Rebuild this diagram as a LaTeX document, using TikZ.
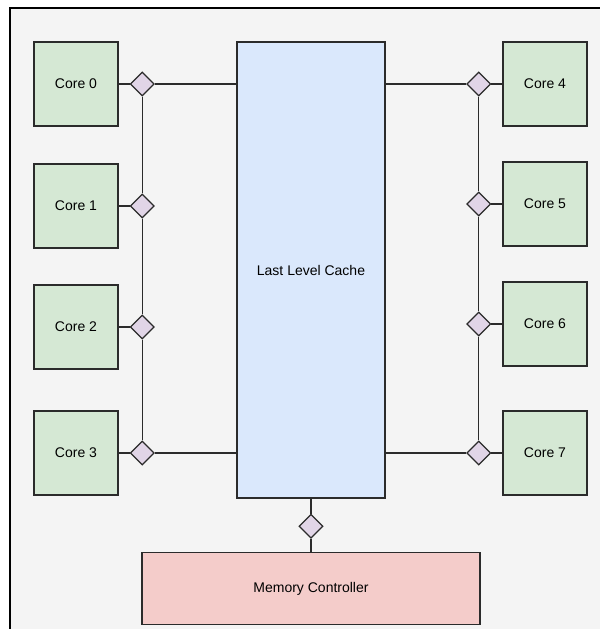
\documentclass[tikz,border=0pt]{standalone}
\usepackage{fontspec}
\setmainfont{Liberation Sans}
\usepackage{xcolor}
\usetikzlibrary{shapes.geometric, positioning}

\definecolor{pagegray}{HTML}{F4F4F4}
\definecolor{corefill}{HTML}{D5E8D4}
\definecolor{portfill}{HTML}{E1D5E7}
\definecolor{cachefill}{HTML}{DAE8FC}
\definecolor{memfill}{HTML}{F4CCCA}
\definecolor{edge}{HTML}{2B2B2B}

\begin{document}
\begin{tikzpicture}[
        x=1pt, y=-1pt,
        core/.style={
            rectangle,
            draw=edge,
            fill=corefill,
            line width=1.3pt,
            minimum width=84pt,
            minimum height=84pt,
            align=center,
            font=\fontsize{14}{16}\selectfont
        },
        port/.style={
            diamond,
            draw=edge,
            fill=portfill,
            line width=1.3pt,
            inner sep=0pt,
            minimum width=24pt,
            minimum height=24pt
        },
        cache/.style={
            rectangle,
            draw=edge,
            fill=cachefill,
            line width=1.3pt,
            minimum width=148pt,
            minimum height=456pt,
            font=\fontsize{14}{16}\selectfont
        },
        memctl/.style={
            rectangle,
            draw=edge,
            fill=memfill,
            line width=1.3pt,
            minimum width=338pt,
            minimum height=72pt,
            font=\fontsize{14}{16}\selectfont
        },
        bus/.style={draw=edge, line width=1.3pt}
    ]

    % page and frame
    \useasboundingbox (0,0) rectangle (600,629);
    \fill[white] (0,0) rectangle (600,629);
    \fill[pagegray] (10,8) rectangle (600,629);
    \draw[line width=1.5pt] (10,629) -- (10,8) -- (600,8);

    % cache in the middle
    \node (llc) [cache] at (311,270) {Last Level Cache};

    % left cores
    \node (core0) [core] at (76,84) {Core 0};
    \node (core1) [core] at (76,206) {Core 1};
    \node (core2) [core] at (76,327) {Core 2};
    \node (core3) [core] at (76,453) {Core 3};

    % right cores
    \node (core4) [core] at (545,84) {Core 4};
    \node (core5) [core] at (545,204) {Core 5};
    \node (core6) [core] at (545,324) {Core 6};
    \node (core7) [core] at (545,453) {Core 7};

    % ports
    \node (p0) [port, right=11pt of core0] {};
    \node (p1) [port, right=11pt of core1] {};
    \node (p2) [port, right=11pt of core2] {};
    \node (p3) [port, right=11pt of core3] {};
    \node (p4) [port, left=11pt of core4] {};
    \node (p5) [port, left=11pt of core5] {};
    \node (p6) [port, left=11pt of core6] {};
    \node (p7) [port, left=11pt of core7] {};
    \node (pm) [port, below=15pt of llc] {};

    \node (mc) [memctl, below=13pt of pm] {Memory Controller};

    % links
    \draw [bus] (core0) -- (p0);
    \draw [bus] (core1) -- (p1);
    \draw [bus] (core2) -- (p2);
    \draw [bus] (core3) -- (p3);
    \draw [bus] (core4) -- (p4);
    \draw [bus] (core5) -- (p5);
    \draw [bus] (core6) -- (p6);
    \draw [bus] (core7) -- (p7);

    \draw [bus] (p0) -- (p1) -- (p2) -- (p3);
    \draw [bus] (p4) -- (p5) -- (p6) -- (p7);

    \draw [bus] (p0) -- (p0 -| llc.west);
    \draw [bus] (p3) -- (p3 -| llc.west);
    \draw [bus] (p4) -- (p4 -| llc.east);
    \draw [bus] (p7) -- (p7 -| llc.east);

    \draw [bus] (llc) -- (pm);
    \draw [bus] (pm) -- (mc);

    \end{tikzpicture}
\end{document}
